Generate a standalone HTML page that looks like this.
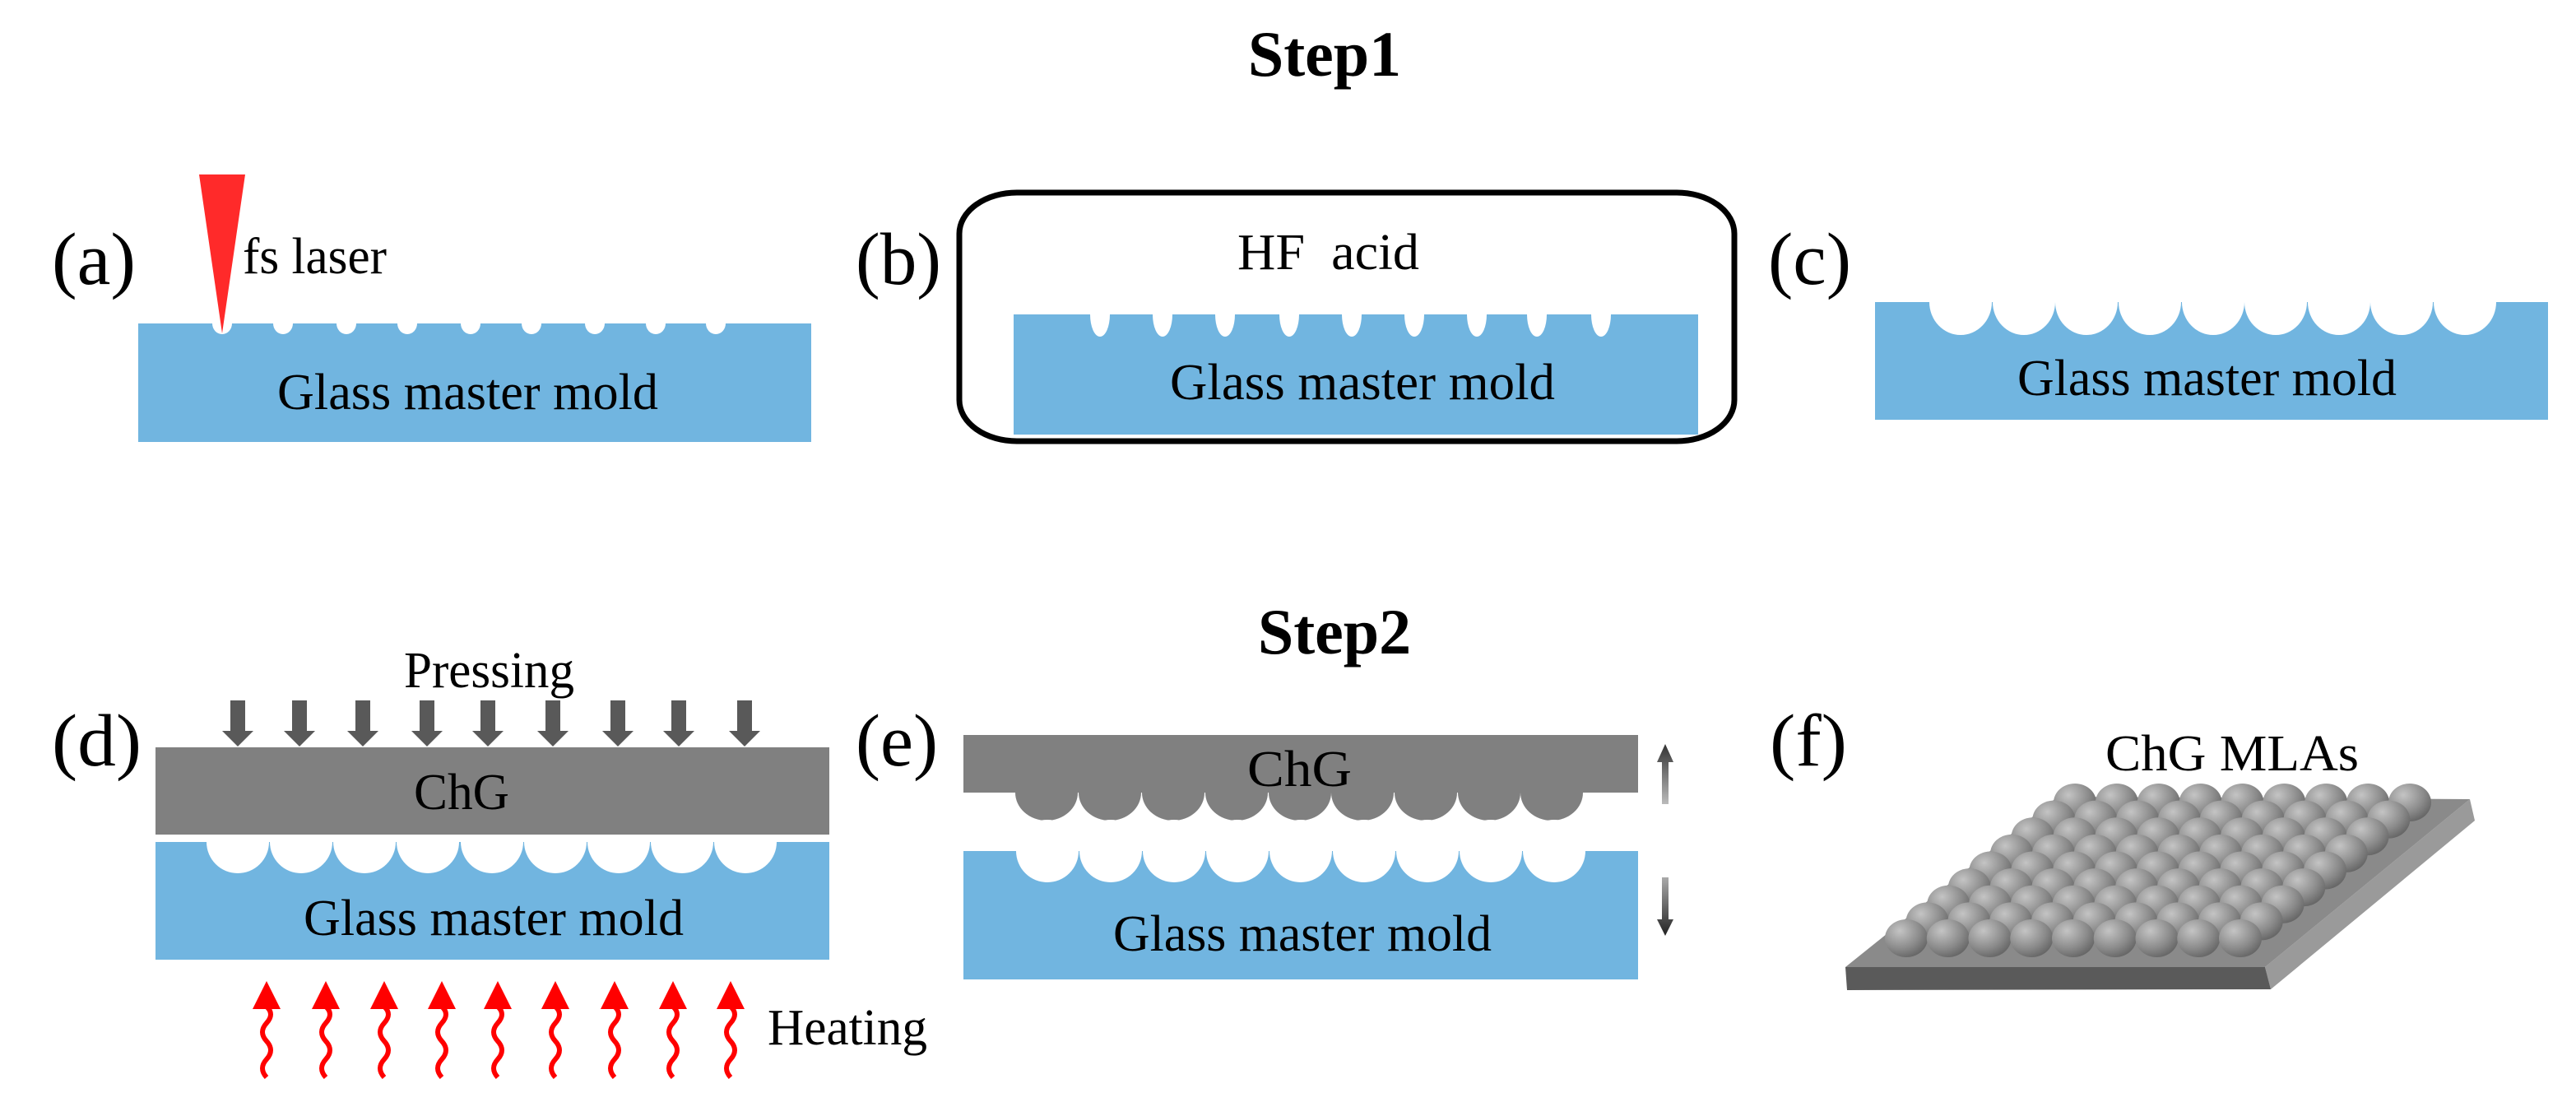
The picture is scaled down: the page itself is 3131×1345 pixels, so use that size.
<!DOCTYPE html>
<html><head><meta charset="utf-8"><style>
html,body{margin:0;padding:0;background:#fff;}
svg{display:block;}
</style></head><body>
<svg width="3131" height="1345" viewBox="0 0 3131 1345" xmlns="http://www.w3.org/2000/svg">
<defs>
<radialGradient id="bump" cx="0.35" cy="0.3" r="0.8">
<stop offset="0" stop-color="#c4c4c4"/><stop offset="0.6" stop-color="#8a8a8a"/><stop offset="1" stop-color="#5e5e5e"/>
</radialGradient>
<linearGradient id="upg" x1="0" y1="0" x2="0" y2="1"><stop offset="0" stop-color="#333"/><stop offset="1" stop-color="#bbb"/></linearGradient>
<linearGradient id="dng" x1="0" y1="0" x2="0" y2="1"><stop offset="0" stop-color="#aaa"/><stop offset="1" stop-color="#222"/></linearGradient>
</defs>
<g font-family="Liberation Serif, DejaVu Serif, serif" fill="#000">
<text x="1610" y="92" font-size="78" font-weight="bold" text-anchor="middle">Step1</text>
<text x="1622" y="794" font-size="78" font-weight="bold" text-anchor="middle">Step2</text>

<text x="63" y="345" font-size="90" textLength="102" lengthAdjust="spacingAndGlyphs">(a)</text>
<text x="1040" y="345" font-size="90" textLength="104" lengthAdjust="spacingAndGlyphs">(b)</text>
<text x="2149" y="345" font-size="90" textLength="101" lengthAdjust="spacingAndGlyphs">(c)</text>
<text x="63" y="930" font-size="90" textLength="109" lengthAdjust="spacingAndGlyphs">(d)</text>
<text x="1040" y="930" font-size="90" textLength="100" lengthAdjust="spacingAndGlyphs">(e)</text>
<text x="2151" y="930" font-size="90" textLength="94" lengthAdjust="spacingAndGlyphs">(f)</text>

<!-- (a) -->
<rect x="168" y="393" width="818" height="144" fill="#71b5e0"/>
<g fill="#fff">
<ellipse cx="270" cy="393" rx="12" ry="13"/><ellipse cx="344" cy="393" rx="12" ry="13"/><ellipse cx="421" cy="393" rx="12" ry="13"/>
<ellipse cx="495" cy="393" rx="12" ry="13"/><ellipse cx="572" cy="393" rx="12" ry="13"/><ellipse cx="646" cy="393" rx="12" ry="13"/>
<ellipse cx="723" cy="393" rx="12" ry="13"/><ellipse cx="797" cy="393" rx="12" ry="13"/><ellipse cx="870" cy="393" rx="12" ry="13"/>
</g>
<polygon points="242,212 298,212 270,405" fill="#ff2a2a"/>
<text x="295" y="332" font-size="62" textLength="175" lengthAdjust="spacingAndGlyphs">fs laser</text>
<text x="337" y="497" font-size="62" textLength="463" lengthAdjust="spacingAndGlyphs">Glass master mold</text>

<!-- (b) -->
<rect x="1166" y="234" width="942" height="302" rx="70" ry="50" fill="none" stroke="#000" stroke-width="7"/>
<rect x="1232" y="382" width="832" height="146" fill="#71b5e0"/>
<g fill="#fff">
<ellipse cx="1337" cy="382" rx="12" ry="27"/><ellipse cx="1413" cy="382" rx="12" ry="27"/><ellipse cx="1489" cy="382" rx="12" ry="27"/>
<ellipse cx="1567" cy="382" rx="12" ry="27"/><ellipse cx="1643" cy="382" rx="12" ry="27"/><ellipse cx="1719" cy="382" rx="12" ry="27"/>
<ellipse cx="1795" cy="382" rx="12" ry="27"/><ellipse cx="1868" cy="382" rx="12" ry="27"/><ellipse cx="1946" cy="382" rx="12" ry="27"/>
</g>
<text x="1504" y="327" font-size="62" textLength="221" lengthAdjust="spacingAndGlyphs" xml:space="preserve">HF  acid</text>
<text x="1422" y="485" font-size="62" textLength="468" lengthAdjust="spacingAndGlyphs">Glass master mold</text>

<!-- (c) -->
<rect x="2279" y="367" width="818" height="143" fill="#71b5e0"/>
<g fill="#fff">
<ellipse cx="2383" cy="367" rx="38" ry="40"/><ellipse cx="2460" cy="367" rx="38" ry="40"/><ellipse cx="2536" cy="367" rx="38" ry="40"/>
<ellipse cx="2613" cy="367" rx="38" ry="40"/><ellipse cx="2690" cy="367" rx="38" ry="40"/><ellipse cx="2766" cy="367" rx="38" ry="40"/>
<ellipse cx="2843" cy="367" rx="38" ry="40"/><ellipse cx="2919" cy="367" rx="38" ry="40"/><ellipse cx="2996" cy="367" rx="38" ry="40"/>
</g>
<text x="2452" y="480" font-size="62" textLength="461" lengthAdjust="spacingAndGlyphs">Glass master mold</text>

<!-- (d) -->
<text x="491" y="835" font-size="62" textLength="207" lengthAdjust="spacingAndGlyphs">Pressing</text>
<g fill="#595959">
<path d="M280 851h18v37h10l-19 19l-19-19h10z"/>
<path d="M355 851h18v37h10l-19 19l-19-19h10z"/>
<path d="M432 851h18v37h10l-19 19l-19-19h10z"/>
<path d="M510 851h18v37h10l-19 19l-19-19h10z"/>
<path d="M584 851h18v37h10l-19 19l-19-19h10z"/>
<path d="M663 851h18v37h10l-19 19l-19-19h10z"/>
<path d="M742 851h18v37h10l-19 19l-19-19h10z"/>
<path d="M816 851h18v37h10l-19 19l-19-19h10z"/>
<path d="M896 851h18v37h10l-19 19l-19-19h10z"/>
</g>
<rect x="189" y="1023" width="819" height="143" fill="#71b5e0"/>
<g fill="#fff">
<ellipse cx="289" cy="1023" rx="38" ry="38"/><ellipse cx="366" cy="1023" rx="38" ry="38"/><ellipse cx="443" cy="1023" rx="38" ry="38"/>
<ellipse cx="520" cy="1023" rx="38" ry="38"/><ellipse cx="598" cy="1023" rx="38" ry="38"/><ellipse cx="675" cy="1023" rx="38" ry="38"/>
<ellipse cx="752" cy="1023" rx="38" ry="38"/><ellipse cx="829" cy="1023" rx="38" ry="38"/><ellipse cx="906" cy="1023" rx="38" ry="38"/>
</g>
<rect x="189" y="908" width="819" height="106" fill="#808080"/>
<rect x="189" y="1014" width="819" height="9" fill="#fff"/>
<text x="503" y="983" font-size="62" textLength="116" lengthAdjust="spacingAndGlyphs">ChG</text>
<text x="369" y="1136" font-size="62" textLength="462" lengthAdjust="spacingAndGlyphs">Glass master mold</text>
<g fill="none" stroke="#ff0000" stroke-width="6">
<path id="w" d="M0 1309 q-10 -11 0 -22 q10 -11 0 -22 q-10 -11 0 -22 q10 -11 0 -20" transform="translate(324 0)"/>
<use href="#w" x="72"/><use href="#w" x="143"/><use href="#w" x="213"/><use href="#w" x="281"/>
<use href="#w" x="351"/><use href="#w" x="423"/><use href="#w" x="494"/><use href="#w" x="564"/>
</g>
<g fill="#ff0000">
<polygon id="h" points="307,1226 341,1226 324,1192"/>
<use href="#h" x="72"/><use href="#h" x="143"/><use href="#h" x="213"/><use href="#h" x="281"/>
<use href="#h" x="351"/><use href="#h" x="423"/><use href="#h" x="494"/><use href="#h" x="564"/>
</g>
<text x="933" y="1269" font-size="62" textLength="194" lengthAdjust="spacingAndGlyphs">Heating</text>

<!-- (e) -->
<g fill="#808080">
<rect x="1171" y="893" width="820" height="70"/>
<ellipse cx="1272" cy="963" rx="38" ry="34"/><ellipse cx="1349" cy="963" rx="38" ry="34"/><ellipse cx="1426" cy="963" rx="38" ry="34"/>
<ellipse cx="1503" cy="963" rx="38" ry="34"/><ellipse cx="1580" cy="963" rx="38" ry="34"/><ellipse cx="1656" cy="963" rx="38" ry="34"/>
<ellipse cx="1733" cy="963" rx="38" ry="34"/><ellipse cx="1810" cy="963" rx="38" ry="34"/><ellipse cx="1886" cy="963" rx="38" ry="34"/>
</g>
<text x="1516" y="955" font-size="62" textLength="127" lengthAdjust="spacingAndGlyphs">ChG</text>
<rect x="1171" y="1034" width="820" height="156" fill="#71b5e0"/>
<g fill="#fff">
<ellipse cx="1273" cy="1034" rx="38" ry="38"/><ellipse cx="1350" cy="1034" rx="38" ry="38"/><ellipse cx="1427" cy="1034" rx="38" ry="38"/>
<ellipse cx="1504" cy="1034" rx="38" ry="38"/><ellipse cx="1581" cy="1034" rx="38" ry="38"/><ellipse cx="1658" cy="1034" rx="38" ry="38"/>
<ellipse cx="1735" cy="1034" rx="38" ry="38"/><ellipse cx="1812" cy="1034" rx="38" ry="38"/><ellipse cx="1889" cy="1034" rx="38" ry="38"/>
</g>
<text x="1353" y="1155" font-size="62" textLength="460" lengthAdjust="spacingAndGlyphs">Glass master mold</text>
<path d="M2024 904l10 22h-6v51h-8v-51h-6z" fill="url(#upg)"/>
<path d="M2020 1066h8v51h6l-10 20l-10-20h6z" fill="url(#dng)"/>

<!-- (f) -->
<text x="2559" y="936" font-size="62" textLength="308" lengthAdjust="spacingAndGlyphs">ChG MLAs</text>
<polygon points="3002,971 3008,997 2760,1202 2753,1175" fill="#9a9a9a"/>
<polygon points="2243,1175 2753,1175 2760,1202 2245,1203" fill="#5a5a5a"/>
<polygon points="2501,968 3002,971 2753,1175 2243,1175" fill="#8a8a8a"/>
<g id="bumps"></g>
</g>
<script>
(function(){
var g=document.getElementById('bumps'),ns='http://www.w3.org/2000/svg';
for(var r=0;r<9;r++){
 var t=r/8;
 var y=975+t*(1140-975);
 var x0=2522+t*(2317-2522);
 var x1=2929+t*(2723-2929);
 for(var c=0;c<9;c++){
  var x=x0+c*(x1-x0)/8;
  var e=document.createElementNS(ns,'ellipse');
  e.setAttribute('cx',x);e.setAttribute('cy',y);
  e.setAttribute('rx',26);e.setAttribute('ry',23);
  e.setAttribute('fill','url(#bump)');
  g.appendChild(e);
 }
}
})();
</script>
</svg>
</body></html>
